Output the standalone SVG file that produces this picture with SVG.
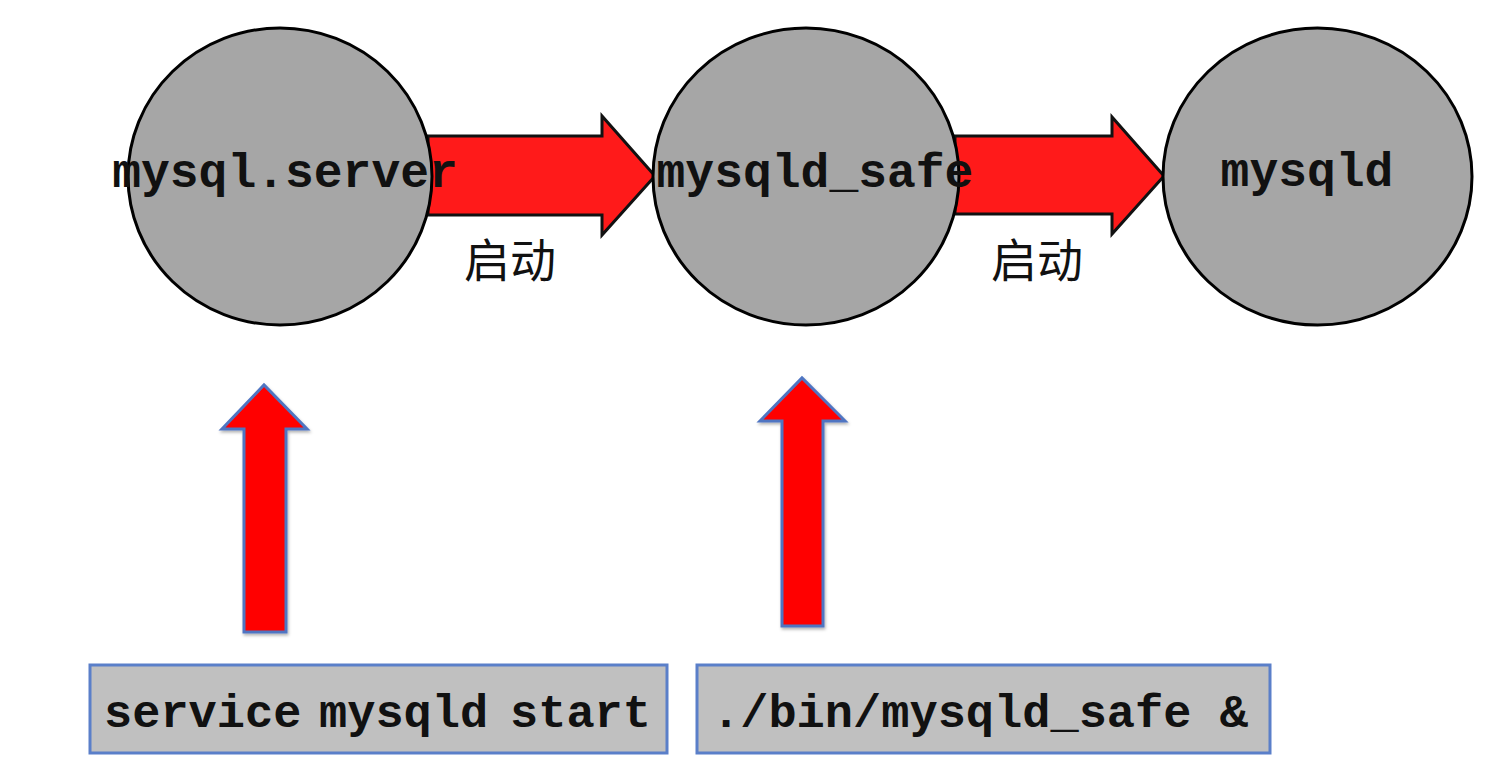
<svg xmlns="http://www.w3.org/2000/svg" width="1490" height="769" viewBox="0 0 1490 769">
  <defs>
    <style>
      .node { fill: #a6a6a6; stroke: #000; stroke-width: 3; }
      .lbl { font-family: "Liberation Mono", "Courier New", monospace; font-weight: bold; font-size: 48px; fill: #111; }
      .cmd { font-family: "Liberation Mono", "Courier New", monospace; font-weight: bold; font-size: 47px; fill: #111; }
      .cn { font-family: "Noto Sans CJK SC", "Noto Sans", sans-serif; font-size: 46px; fill: #111; }
      .harrow { fill: #ff1a1a; stroke: #111; stroke-width: 3; stroke-linejoin: miter; }
      .varrow { fill: #ff0000; stroke: #4f74c2; stroke-width: 3; stroke-linejoin: miter; }
      .box { fill: #c0c0c0; stroke: #5a7fc9; stroke-width: 3; }
    </style>
    <filter id="shadow" x="-20%" y="-20%" width="140%" height="140%">
      <feDropShadow dx="1" dy="2" stdDeviation="1.5" flood-color="#000" flood-opacity="0.3"/>
    </filter>
  </defs>
  <rect width="1490" height="769" fill="#ffffff"/>

  <g id="connectors">
    <polygon class="harrow" points="428,136 602,136 602,116 655,176 602,235 602,215 428,215"/>
    <polygon class="harrow" points="955,136 1112,136 1112,117 1164,176 1112,234 1112,214 955,214"/>
    <polygon class="varrow" filter="url(#shadow)" points="244,632 286,632 286,429 307,429 264,385 222,429 244,429"/>
    <polygon class="varrow" filter="url(#shadow)" points="782,626 823,626 823,421 845,421 802,378 760,421 782,421"/>
    <text class="cn" x="510" y="277" text-anchor="middle">启动</text>
    <text class="cn" x="1037" y="277" text-anchor="middle">启动</text>
  </g>

  <g id="node-mysql-server">
    <ellipse class="node" cx="280" cy="176.5" rx="152" ry="148.5"/>
    <text class="lbl" x="285" y="187" text-anchor="middle">mysql.server</text>
  </g>

  <g id="node-mysqld-safe">
    <ellipse class="node" cx="806" cy="176.5" rx="153" ry="148.5"/>
    <text class="lbl" x="815" y="187" text-anchor="middle">mysqld_safe</text>
  </g>

  <g id="node-mysqld">
    <ellipse class="node" cx="1317.5" cy="176.5" rx="154.5" ry="148.5"/>
    <text class="lbl" x="1307" y="186" text-anchor="middle">mysqld</text>
  </g>

  <g id="node-service-cmd">
    <rect class="box" x="90" y="665" width="577" height="88"/>
    <text class="cmd" y="727"><tspan x="104">service</tspan><tspan x="319">mysqld</tspan><tspan x="510">start</tspan></text>
  </g>

  <g id="node-safe-cmd">
    <rect class="box" x="697" y="665" width="573" height="88"/>
    <text class="cmd" x="712" y="727">./bin/mysqld_safe &amp;</text>
  </g>
</svg>
